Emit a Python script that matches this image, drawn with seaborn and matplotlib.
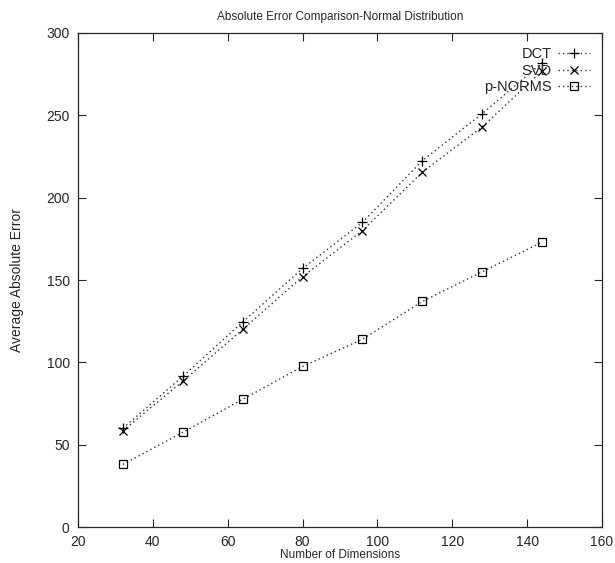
import matplotlib
matplotlib.use('Agg')
import matplotlib.pyplot as plt
import seaborn as sns
import pandas as pd

# данные
dims = [32, 48, 64, 80, 96, 112, 128, 144]
dct = [60, 91.5, 124.5, 157, 185, 222.5, 251, 282]
svd = [58.5, 88.5, 120, 152, 180, 215.5, 243, 277]
pnorms = [38, 57.5, 77.5, 97.5, 114, 137, 155, 173]

series = [('DCT', dct, '+', 6.5), ('SVD', svd, 'x', 5.5), ('p-NORMS', pnorms, 's', 6)]

sns.set_style('ticks')
plt.rcParams['font.family'] = ['Liberation Sans', 'DejaVu Sans']

fig = plt.figure(figsize=(6.15, 5.63), dpi=100)
ax = fig.add_axes([0.1268, 0.0639, 0.8521, 0.8775])

for name, vals, mk, ms in series:
    df = pd.DataFrame({'dims': dims, 'err': vals})
    sns.lineplot(data=df, x='dims', y='err', ax=ax, color='#333333',
                 linestyle=(0, (1, 2.2)), linewidth=1.0, marker=mk,
                 markersize=ms,
                 markerfacecolor='none' if mk == 's' else 'black',
                 markeredgecolor='black', markeredgewidth=0.9,
                 label=name)

ax.set_xlim(20, 160)
ax.set_ylim(0, 300)
ax.set_xticks(range(20, 161, 20))
ax.set_yticks(range(0, 301, 50))
ax.tick_params(direction='in', top=True, right=True, length=6, width=0.8,
               labelsize=10, pad=6)
for sp in ax.spines.values():
    sp.set_linewidth(0.9)
    sp.set_visible(True)

ax.set_title('Absolute Error Comparison-Normal Distribution', fontsize=8.5, pad=9)
ax.set_xlabel('Number of Dimensions', fontsize=8.5, labelpad=0)
ax.set_ylabel('Average Absolute Error', fontsize=10, labelpad=16)

ax.legend(loc='upper right', frameon=False, markerfirst=False, fontsize=10.5,
          handlelength=2.2, handletextpad=0.45, labelspacing=0.18,
          borderaxespad=0.4, bbox_to_anchor=(1.0, 0.995))

fig.savefig('out.png', dpi=100)
